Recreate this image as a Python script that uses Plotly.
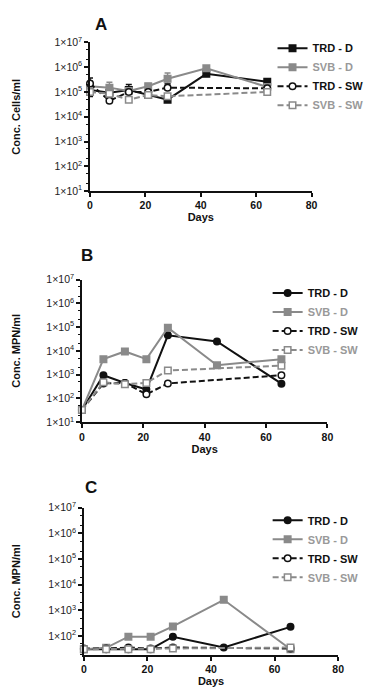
import plotly.graph_objects as go

# ---------------- data ----------------
days_A = [0, 7, 14, 21, 28, 42, 64]
days_A_sw = [0, 7, 14, 21, 28, 64]
A_trd_d = [1.2e5, 9.4e4, 1.2e5, 7.8e4, 4.9e4, 5.4e5, 2.6e5]
A_svb_d = [1.7e5, 1.5e5, 1.1e5, 1.7e5, 3.4e5, 9.0e5, 1.6e5]
A_trd_sw = [2.2e5, 4.4e4, 1.0e5, 1.0e5, 1.5e5, 1.4e5]
A_svb_sw = [1.0e5, 8.5e4, 4.9e4, 7.5e4, 6.7e4, 1.0e5]
A_trd_d_err = [1.2e5, 4.0e4, 8.0e4, 3.0e4, 2.0e4, 1.5e5, 6.0e4]
A_svb_d_err = [1.0e5, 1.0e5, 3.0e4, 5.0e4, 2.5e5, 2.5e5, 3.0e4]
A_trd_sw_err = [1.5e5, 1.5e4, 2.0e4, 2.0e4, 6.0e4, 3.0e4]
A_svb_sw_err = [5.0e4, 3.0e4, 1.0e4, 2.0e4, 1.0e4, 2.0e4]

days_B = [0, 7, 14, 21, 28, 44, 65]
days_B_sw = [0, 7, 14, 21, 28, 65]
B_trd_d = [33, 950, 450, 240, 45000, 25000, 420]
B_svb_d = [33, 4500, 9500, 4500, 95000, 2500, 4500]
B_trd_sw = [33, 430, 450, 150, 430, 950]
B_svb_sw = [33, 480, 400, 450, 1500, 2400]

days_C = [0, 7, 14, 21, 28, 44, 65]
days_C_sw = [0, 7, 14, 21, 28, 65]
C_trd_d = [31, 31, 31, 31, 95, 36, 230]
C_svb_d = [31, 35, 95, 95, 240, 2600, 31]
C_trd_sw = [33, 33, 36, 33, 36, 33]
C_svb_sw = [31, 31, 31, 31, 33, 36]

series_names = ["TRD - D", "SVB - D", "TRD - SW", "SVB - SW"]
panel_letters = ["A", "B", "C"]
y_titles = ["Conc. Cells/ml", "Conc. MPN/ml", "Conc. MPN/ml"]
x_ticks = [0, 20, 40, 60, 80]
y_exps = [1, 2, 3, 4, 5, 6, 7]

# ---------------- layout geometry (viewport pixels) ----------------
# the page body has an 8px default margin, so the figure is offset by OFF
OFF = 8
VW, VH = 380, 697
W, H = VW - OFF, VH - OFF
panels = [
    dict(x0=89, x1=316, yt=35, yb=186.7, ylo=1.0, legtop=26, legx=276, lx=100, ly=17),
    dict(x0=80.7, x1=332.3, yt=277, yb=422.7, ylo=1.0, legtop=276, legx=271, lx=86, ly=252),
    dict(x0=82.7, x1=343.3, yt=510, yb=660, ylo=1.275, legtop=508, legx=271, lx=90, ly=489),
]
BLACK = "#111111"
GRAY = "#8a8a8a"
GRAY_TXT = "#999999"
FONT = "Liberation Sans, Arial, sans-serif"


def px(xv):
    return (xv - OFF) / W


def py(yv):
    return 1 - (yv - OFF) / H


fig = go.Figure()


def add(panel_idx, x, y, name, color, symbol, fill, dash, err=None):
    ax = "" if panel_idx == 0 else str(panel_idx + 1)
    txtcol = BLACK if color == BLACK else GRAY_TXT
    tr = dict(
        x=x, y=y, mode="lines+markers",
        name=f"<b><span style='color:{txtcol}'>{name}</span></b>",
        line=dict(color=color, width=2, dash=dash),
        marker=dict(symbol=symbol, size=6.5, color=fill,
                    line=dict(color=color, width=1.5)),
        xaxis="x" + ax, yaxis="y" + ax,
        legend="legend" + ax,
        cliponaxis=False,
    )
    if err is not None:
        tr["error_y"] = dict(type="data", array=err,
                             arrayminus=[e * 0.45 for e in err],
                             color=color, thickness=1.5, width=3)
    fig.add_trace(go.Scatter(**tr))


DASH = "6px,3px"
# Panel A
add(0, days_A, A_trd_d, series_names[0], BLACK, "square", BLACK, "solid", A_trd_d_err)
add(0, days_A, A_svb_d, series_names[1], GRAY, "square", GRAY, "solid", A_svb_d_err)
add(0, days_A_sw, A_trd_sw, series_names[2], BLACK, "circle", "white", DASH, A_trd_sw_err)
add(0, days_A_sw, A_svb_sw, series_names[3], GRAY, "square", "white", DASH, A_svb_sw_err)
# Panel B
add(1, days_B, B_trd_d, series_names[0], BLACK, "circle", BLACK, "solid")
add(1, days_B, B_svb_d, series_names[1], GRAY, "square", GRAY, "solid")
add(1, days_B_sw, B_trd_sw, series_names[2], BLACK, "circle", "white", DASH)
add(1, days_B_sw, B_svb_sw, series_names[3], GRAY, "square", "white", DASH)
# Panel C
add(2, days_C, C_trd_d, series_names[0], BLACK, "circle", BLACK, "solid")
add(2, days_C, C_svb_d, series_names[1], GRAY, "square", GRAY, "solid")
add(2, days_C_sw, C_trd_sw, series_names[2], BLACK, "circle", "white", DASH)
add(2, days_C_sw, C_svb_sw, series_names[3], GRAY, "square", "white", DASH)

layout = dict(
    width=W, height=H, autosize=False,
    margin=dict(l=0, r=0, t=0, b=0),
    paper_bgcolor="white", plot_bgcolor="white",
    font=dict(family=FONT, color=BLACK),
    annotations=[],
)

ytext = [f"1×10<sup>{e}</sup>" for e in y_exps]

for i, p in enumerate(panels):
    ax = "" if i == 0 else str(i + 1)
    xd = [px(p["x0"]), px(p["x1"])]
    yd = [py(p["yb"]), py(p["yt"])]
    layout["xaxis" + ax] = dict(
        domain=xd, range=[0, 80], anchor="y" + ax,
        showline=True, linecolor=BLACK, linewidth=1.5,
        ticks="outside", ticklen=4, tickwidth=1.5, tickcolor=BLACK,
        tickvals=x_ticks, ticktext=[f"<b>{t}</b>" for t in x_ticks],
        tickfont=dict(size=10.5, color=BLACK), showgrid=False, zeroline=False,
        title=dict(text="<b>Days</b>", font=dict(size=11), standoff=2),
    )
    layout["yaxis" + ax] = dict(
        domain=yd, type="log", range=[p["ylo"], 7], anchor="x" + ax,
        showline=True, linecolor=BLACK, linewidth=1.5,
        ticks="outside", ticklen=4, tickwidth=1.5, tickcolor=BLACK,
        tickvals=[10 ** e for e in y_exps], ticktext=ytext,
        tickfont=dict(size=10.5, color="#222222"), showgrid=False, zeroline=False,
        minor=dict(ticks="outside", ticklen=2, tickwidth=1, tickcolor=BLACK,
                   showgrid=False),
    )
    leg = dict(
        x=px(p["legx"]), y=py(p["legtop"]), xanchor="left", yanchor="top",
        bgcolor="rgba(0,0,0,0)", font=dict(size=11, family=FONT),
        itemwidth=30, tracegroupgap=0,
    )
    layout["legend" + ("" if i == 0 else str(i + 1))] = leg
    # panel letter
    layout["annotations"].append(dict(
        text=f"<b>{panel_letters[i]}</b>", xref="paper", yref="paper",
        x=px(p["lx"]), y=py(p["ly"]),
        xanchor="center", yanchor="middle", showarrow=False,
        font=dict(size=17, color=BLACK),
    ))
    # y title
    layout["annotations"].append(dict(
        text=f"<b>{y_titles[i]}</b>", xref="paper", yref="paper",
        x=px(13), y=py((p["yt"] + p["yb"]) / 2), textangle=-90,
        xanchor="center", yanchor="middle", showarrow=False,
        font=dict(size=11, color=BLACK),
    ))

fig.update_layout(**layout)
fig.write_html("out.html")
